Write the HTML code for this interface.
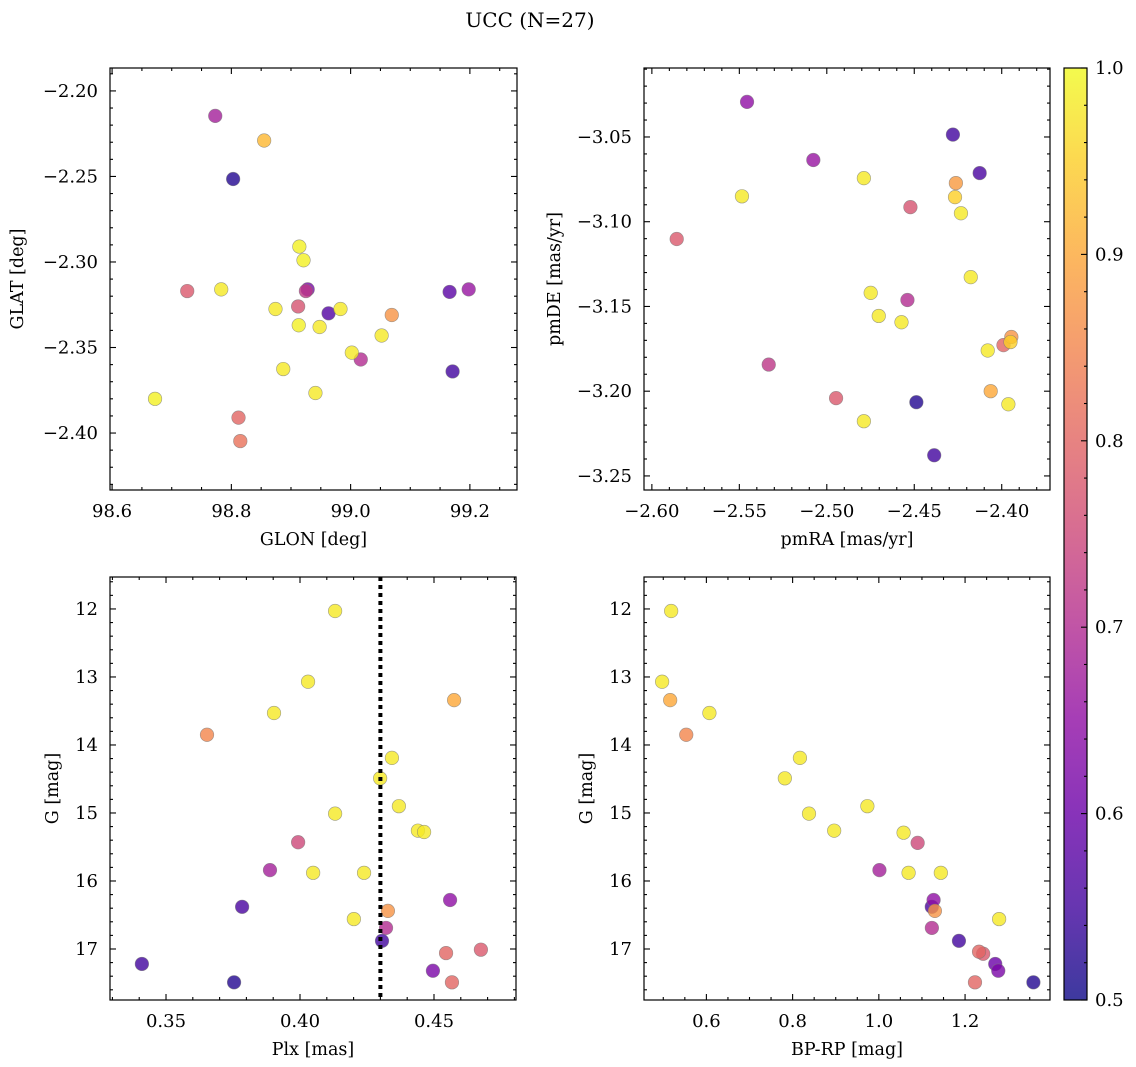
<!DOCTYPE html>
<html><head><meta charset="utf-8"><style>
html,body{margin:0;padding:0;background:#fff}
svg{display:block;font-family:"DejaVu Serif","Liberation Serif",serif}
</style></head><body>
<svg id="fig" width="1136" height="1067" viewBox="0 0 1136 1067" xmlns="http://www.w3.org/2000/svg">
<text x="530" y="27" font-size="20" text-anchor="middle">UCC (N=27)</text>
</svg>
<script>
// ---- data ----
const glon=[98.773,98.855,98.803,98.914,98.921,98.726,98.783,98.928,98.925,98.912,98.874,98.983,98.963,99.069,99.166,99.198,98.913,98.948,99.052,99.002,99.017,98.887,99.171,98.672,98.941,98.812,98.815];
const glat=[-2.2146,-2.229,-2.2515,-2.291,-2.299,-2.317,-2.316,-2.316,-2.317,-2.326,-2.3275,-2.3275,-2.330,-2.331,-2.3175,-2.316,-2.337,-2.338,-2.343,-2.353,-2.357,-2.3626,-2.364,-2.380,-2.3766,-2.391,-2.4047];
const probTL=[0.68,0.92,0.52,0.99,0.99,0.78,0.98,0.62,0.72,0.77,0.98,0.98,0.57,0.87,0.58,0.66,0.99,0.98,0.98,0.98,0.7,0.98,0.55,0.99,0.98,0.8,0.82];
const pmra=[-2.5456,-2.4279,-2.5077,-2.4126,-2.4788,-2.4262,-2.5485,-2.4267,-2.4522,-2.4233,-2.5858,-2.4177,-2.4749,-2.4539,-2.4703,-2.4573,-2.3945,-2.399,-2.395,-2.408,-2.5332,-2.4063,-2.4947,-2.4488,-2.3962,-2.4788,-2.4386];
const pmde=[-3.0293,-3.0486,-3.0636,-3.0713,-3.0743,-3.0772,-3.0850,-3.0855,-3.0914,-3.095,-3.1102,-3.1327,-3.142,-3.1462,-3.1556,-3.1593,-3.168,-3.1728,-3.171,-3.176,-3.1843,-3.20,-3.2041,-3.2065,-3.2077,-3.2177,-3.2378];
const probTR=[0.65,0.55,0.66,0.56,0.98,0.88,0.98,0.95,0.77,0.98,0.78,0.98,0.98,0.7,0.98,0.98,0.87,0.8,0.95,0.98,0.72,0.9,0.78,0.52,0.98,0.98,0.55];
const plx=[0.4131,0.403,0.4575,0.3903,0.3653,0.4343,0.4299,0.4369,0.4131,0.444,0.4463,0.3993,0.3888,0.4049,0.4239,0.3784,0.456,0.4328,0.4201,0.4321,0.4306,0.4545,0.4675,0.341,0.4496,0.3754,0.4567];
const gmagBL=[12.03,13.07,13.34,13.53,13.85,14.19,14.49,14.90,15.01,15.26,15.28,15.43,15.84,15.88,15.88,16.38,16.28,16.44,16.56,16.69,16.88,17.06,17.01,17.22,17.32,17.49,17.49];
const probBL=[0.98,0.98,0.9,0.98,0.85,0.98,0.98,0.98,0.98,0.98,0.98,0.75,0.68,0.98,0.98,0.56,0.65,0.87,0.98,0.7,0.55,0.8,0.78,0.55,0.62,0.52,0.8];
const bprp=[0.5183,0.4973,0.516,0.607,0.5533,0.817,0.782,0.9734,0.838,0.8964,1.0574,1.09,1.0014,1.069,1.1438,1.127,1.1228,1.13,1.279,1.123,1.1858,1.2324,1.242,1.27,1.277,1.223,1.3585];
const gmagBR=[12.03,13.07,13.34,13.53,13.85,14.19,14.49,14.90,15.01,15.26,15.29,15.44,15.84,15.88,15.88,16.28,16.38,16.44,16.56,16.69,16.88,17.04,17.07,17.22,17.32,17.49,17.49];
const probBR=[0.98,0.98,0.9,0.98,0.85,0.98,0.98,0.98,0.98,0.98,0.98,0.75,0.68,0.98,0.98,0.65,0.56,0.87,0.98,0.7,0.55,0.8,0.78,0.6,0.62,0.8,0.52];
const plxMedian=[0.43];
const cbarTicks=[0.5,0.6,0.7,0.8,0.9,1.0];

const NS="http://www.w3.org/2000/svg";
const svg=document.getElementById('fig');
function mk(tag,attrs,parent){const e=document.createElementNS(NS,tag);for(const k in attrs)e.setAttribute(k,attrs[k]);(parent||svg).appendChild(e);return e;}
const stops=[[13,8,135],[65,4,157],[106,0,168],[143,13,164],[177,42,144],[204,71,120],[225,100,98],[242,132,75],[252,166,54],[252,206,37],[240,249,33]];
function plasma(t){t=Math.max(0,Math.min(1,t));const p=t*10,i=Math.min(9,Math.floor(p)),f=p-i;const a=stops[i],b=stops[i+1];return 'rgb('+[0,1,2].map(k=>Math.round(a[k]+(b[k]-a[k])*f)).join(',')+')';}
function cnorm(v){return (v-0.5)/0.5;}
function fmt(v,d){const s=Math.abs(v).toFixed(d);return (v<-1e-9?'\u2212':'')+s;}

function panel(o){
  const g=mk('g',{},svg);
  
  
  const X=v=>o.x0+(v-o.xmin)/(o.xmax-o.xmin)*(o.x1-o.x0);
  const Y=o.yinv?(v=>o.y0+(v-o.ymin)/(o.ymax-o.ymin)*(o.y1-o.y0)):(v=>o.y1-(v-o.ymin)/(o.ymax-o.ymin)*(o.y1-o.y0));
  const tk=mk('g',{stroke:'#000','stroke-width':1.1},g);
  
  
  for(let v=Math.ceil(o.xmin/o.xmn-1e-6)*o.xmn;v<=o.xmax;v+=o.xmn){const px=X(v);const maj=Math.abs(v/o.xmj-Math.round(v/o.xmj))<1e-4;const L=maj?6:3;
    mk('line',{x1:px,x2:px,y1:o.y1,y2:o.y1-L},tk);mk('line',{x1:px,x2:px,y1:o.y0,y2:o.y0+L},tk);}
  for(let v=Math.ceil(o.ymin/o.ymn-1e-6)*o.ymn;v<=o.ymax;v+=o.ymn){const py=Y(v);const maj=Math.abs(v/o.ymj-Math.round(v/o.ymj))<1e-4;const L=maj?6:3;
    mk('line',{y1:py,y2:py,x1:o.x0,x2:o.x0+L},tk);mk('line',{y1:py,y2:py,x1:o.x1,x2:o.x1-L},tk);}
  o.xt.forEach(v=>{const t=mk('text',{x:X(v),y:o.y1+27,'font-size':18,'text-anchor':'middle'},g);t.textContent=fmt(v,o.xd);
    });
  o.yt.forEach(v=>{const t=mk('text',{x:o.x0-12,y:Y(v)+6,'font-size':18,'text-anchor':'end'},g);t.textContent=fmt(v,o.yd);
    });
  const xl=mk('text',{x:(o.x0+o.x1)/2,y:o.y1+55,'font-size':17.5,'text-anchor':'middle'},g);xl.textContent=o.xlabel;
  
  const yl=mk('text',{x:0,y:0,'font-size':17.5,'text-anchor':'middle',transform:'translate('+(o.ylx)+','+((o.y0+o.y1)/2)+') rotate(-90)'},g);yl.textContent=o.ylabel;
  
  const idx=o.xs.map((_,i)=>i).sort((a,b)=>o.cs[a]-o.cs[b]);
  idx.forEach(i=>{const c=mk('circle',{cx:X(o.xs[i]),cy:Y(o.ys[i]),r:6.8,fill:plasma(cnorm(o.cs[i])),'fill-opacity':0.8,stroke:'#777','stroke-width':0.6,'stroke-opacity':0.7},g);
    });
  if(o.vline){o.vline.forEach(v=>{const l=mk('line',{x1:X(v),x2:X(v),y1:o.y0,y2:o.y1,stroke:'#000','stroke-width':4,'stroke-dasharray':'4,4'},g);
    });}
  const fr=mk('rect',{x:o.x0,y:o.y0,width:o.x1-o.x0,height:o.y1-o.y0,fill:'none',stroke:'#000','stroke-width':1.2},g);
  
}
panel({name:'glon-glat-panel',x0:110,x1:517,y0:68,y1:490,xmin:98.5965,xmax:99.279,ymin:-2.4333,ymax:-2.1866,xmj:0.2,xmn:0.05,ymj:0.05,ymn:0.01,xt:[98.6,98.8,99.0,99.2],yt:[-2.20,-2.25,-2.30,-2.35,-2.40],xd:1,yd:2,xlabel:'GLON [deg]',ylabel:'GLAT [deg]',ylx:23,xs:glon,ys:glat,cs:probTL});
panel({name:'pm-panel',x0:644,x1:1050,y0:68,y1:490,xmin:-2.6045,xmax:-2.3724,ymin:-3.2583,ymax:-3.0093,xmj:0.05,xmn:0.01,ymj:0.05,ymn:0.01,xt:[-2.60,-2.55,-2.50,-2.45,-2.40],yt:[-3.05,-3.10,-3.15,-3.20,-3.25],xd:2,yd:2,xlabel:'pmRA [mas/yr]',ylabel:'pmDE [mas/yr]',ylx:560,xs:pmra,ys:pmde,cs:probTR});
panel({name:'plx-g-panel',x0:110,x1:516,y0:577,y1:1000,xmin:0.3291,xmax:0.4806,ymin:11.53,ymax:17.75,yinv:true,xmj:0.05,xmn:0.01,ymj:1,ymn:0.2,xt:[0.35,0.40,0.45],yt:[12,13,14,15,16,17],xd:2,yd:0,xlabel:'Plx [mas]',ylabel:'G [mag]',ylx:58,xs:plx,ys:gmagBL,cs:probBL,vline:plxMedian});
panel({name:'cmd-panel',x0:644,x1:1050,y0:577,y1:1000,xmin:0.4553,xmax:1.397,ymin:11.53,ymax:17.75,yinv:true,xmj:0.2,xmn:0.05,ymj:1,ymn:0.2,xt:[0.6,0.8,1.0,1.2],yt:[12,13,14,15,16,17],xd:1,yd:0,xlabel:'BP-RP [mag]',ylabel:'G [mag]',ylx:592,xs:bprp,ys:gmagBR,cs:probBR});

const cb=mk('g',{},svg);


const defs=mk('defs',{},svg);const gr=mk('linearGradient',{id:'pg',x1:0,y1:1,x2:0,y2:0},defs);
for(let i=0;i<=20;i++){mk('stop',{offset:i/20,'stop-color':plasma(i/20),'stop-opacity':0.8},gr);}
const CB={x0:1064,x1:1087,y0:68,y1:1000};
const CY=v=>CB.y1-(v-0.5)/0.5*(CB.y1-CB.y0);
mk('rect',{x:CB.x0,y:CB.y0,width:CB.x1-CB.x0,height:CB.y1-CB.y0,fill:'url(#pg)',stroke:'#000','stroke-width':1.2},cb);
for(let v=0.5;v<=1.0001;v+=0.02){const py=CY(v);const maj=Math.abs(v*10-Math.round(v*10))<1e-4;mk('line',{x1:CB.x1,x2:CB.x1-(maj?6:3),y1:py,y2:py,stroke:'#000','stroke-width':1.1},cb);}
cbarTicks.forEach(v=>{const t=mk('text',{x:CB.x1+8,y:CY(v)+6,'font-size':18},cb);t.textContent=v.toFixed(1);
  });
</script>
</body></html>
